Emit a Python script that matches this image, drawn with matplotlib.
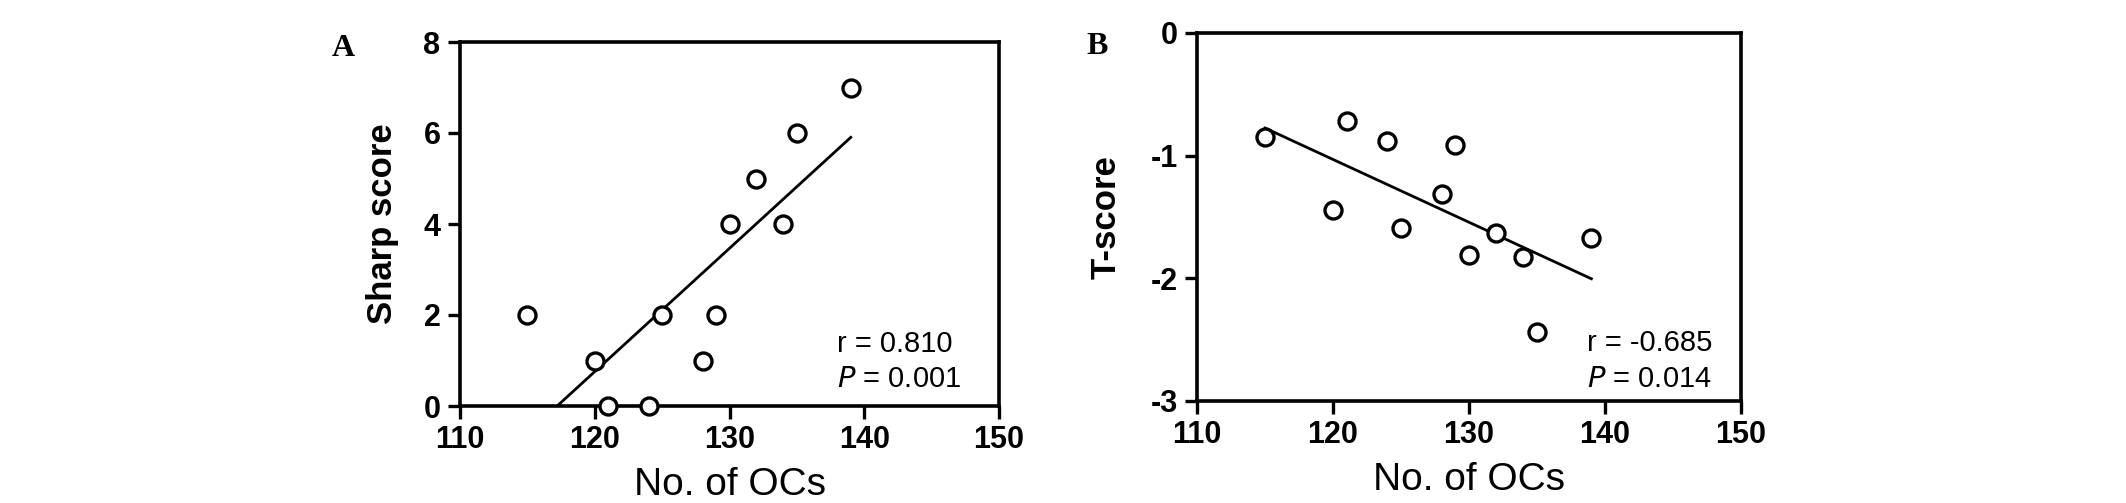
import matplotlib
matplotlib.use("Agg")
import matplotlib.pyplot as plt
import numpy as np

plt.rcParams["font.family"] = ["Liberation Sans", "DejaVu Sans"]
plt.rcParams["axes.unicode_minus"] = False

# data
n_ocs = [115, 120, 121, 124, 125, 128, 129, 130, 132, 134, 135, 139]
sharp_score = [2, 1, 0, 0, 2, 1, 2, 4, 5, 4, 6, 7]
t_score = [-0.85, -1.44, -0.72, -0.88, -1.59, -1.31, -0.91, -1.81, -1.63, -1.83, -2.44, -1.67]

x_ticks = [110, 120, 130, 140, 150]
sharp_ticks = [0, 2, 4, 6, 8]
t_ticks = [-3, -2, -1, 0]

W, H = 2126, 503
fig = plt.figure(figsize=(W / 100, H / 100), dpi=100)


def panel(rect, y, yticks, ylim, ylabel, stats, stat_pos, letter, letter_xy, ylabelx):
    l, t, r, b = rect
    ax = fig.add_axes([l / W, 1 - b / H, (r - l) / W, (b - t) / H])
    ax.scatter(n_ocs, y, s=150, facecolors="white", edgecolors="black",
               linewidths=2.4, zorder=3, clip_on=False)
    slope, icpt = np.polyfit(n_ocs, y, 1)
    xs = np.array([min(n_ocs), max(n_ocs)])
    ax.plot(xs, slope * xs + icpt, color="black", lw=2.0, zorder=2)
    ax.set_xlim(110, 150)
    ax.set_ylim(*ylim)
    ax.set_xticks(x_ticks)
    ax.set_yticks(yticks)
    ax.set_xticklabels([str(v) for v in x_ticks], fontsize=22, fontweight="bold")
    ax.set_yticklabels([str(v) for v in yticks], fontsize=22, fontweight="bold")
    ax.tick_params(direction="out", length=9, width=2.4, pad=5, top=False, right=False)
    for sp in ax.spines.values():
        sp.set_linewidth(2.6)
    ax.set_xlabel("No. of OCs", fontsize=28, labelpad=8)
    ax.set_ylabel(ylabel, fontsize=25, fontweight="bold")
    # label anchor sits on the right edge of the rotated text
    ax.yaxis.set_label_coords((ylabelx + 18 - l) / (r - l), 0.5)
    sx, sy1, sy2 = stat_pos
    ax.text(sx, sy1, stats[0], transform=ax.transAxes, fontsize=21, va="baseline")
    ax.text(sx, sy2, "$\\it{P}$ = " + stats[1], transform=ax.transAxes,
            fontsize=21, va="baseline")
    fig.text(letter_xy[0] / W, 1 - letter_xy[1] / H, letter, fontsize=23,
             fontweight="bold", family="Liberation Serif", ha="center", va="center")
    return ax


panel((460, 42, 999, 406), sharp_score, sharp_ticks, (0, 8), "Sharp score",
      ("r = 0.810", "0.001"), (0.70, 0.148, 0.052), "A", (343, 48), 381)
panel((1197, 33, 1741, 401), t_score, t_ticks, (-3, 0), "T-score",
      ("r = -0.685", "0.014"), (0.716, 0.136, 0.038), "B", (1097, 47), 1105)

fig.savefig("out.png", dpi=100)
